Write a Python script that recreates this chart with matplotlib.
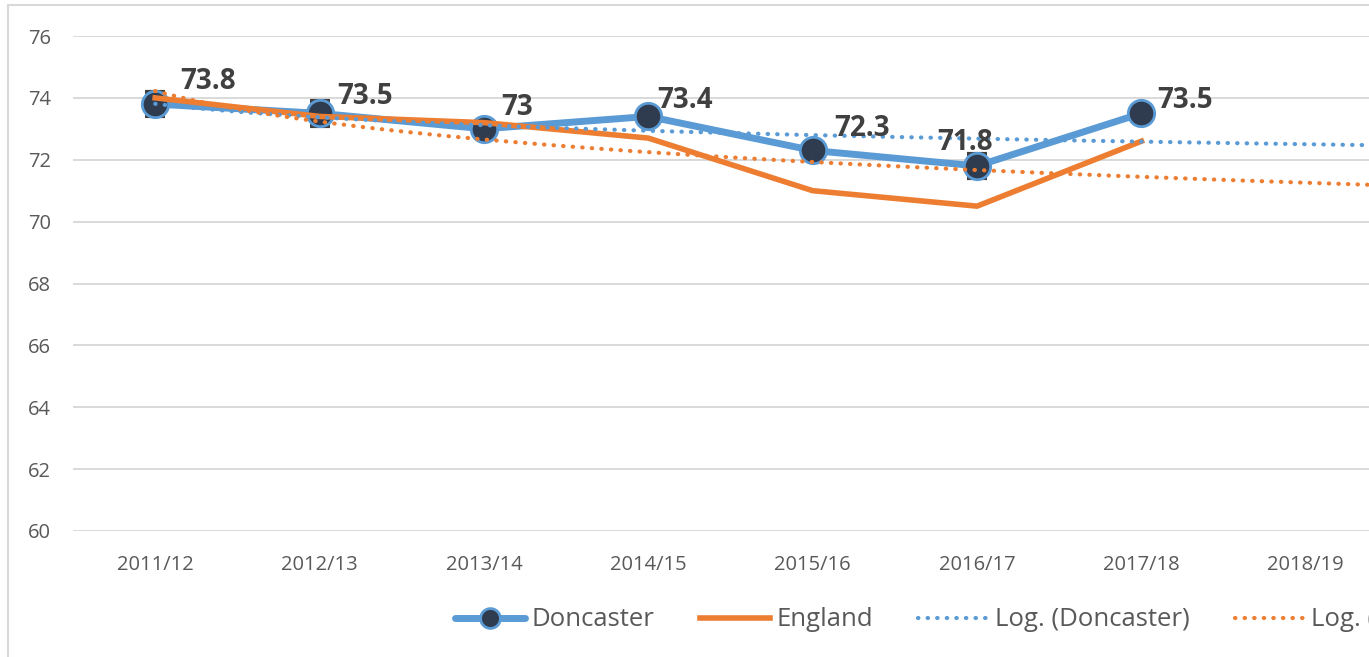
import numpy as np
import matplotlib
matplotlib.use("Agg")
from matplotlib import pyplot as plt
from matplotlib.patches import Rectangle

# -- data ---------------------------------------------------------------------
years = ["2011/12", "2012/13", "2013/14", "2014/15", "2015/16", "2016/17", "2017/18", "2018/19"]
doncaster = [73.8, 73.5, 73.0, 73.4, 72.3, 71.8, 73.5]
england = [74.0, 73.4, 73.2, 72.7, 71.0, 70.5, 72.6]
doncaster_err = [0.4, 0.4, 0.0, 0.0, 0.0, 0.4, 0.0]

# label offsets in pixels (dx, dy) - placed by hand like the original
label_offsets = [(25, 23), (18, 17), (17, 21), (9, 16), (22, 22), (-40, 23), (16, 13)]

# -- colours ------------------------------------------------------------------
blue = "#5B9BD5"
orange = "#ED7D31"
navy = "#2F3B4F"
grid_col = "#D9D9D9"
text_col = "#595959"
label_col = "#404040"

W, H = 1369, 657
fig = plt.figure(figsize=(W / 100, H / 100), dpi=100)
fig.set_facecolor("white")

plt.rcParams["font.family"] = ["Open Sans", "DejaVu Sans"]

# plot area runs off the right edge of the (cropped) picture
ax = fig.add_axes((73 / W, (H - 531) / H, (1388 - 73) / W, 495 / H))

x = np.arange(len(doncaster))

# log trendlines, fitted like Excel does: y = a + b*ln(x)
xf = np.linspace(1, 9, 200)
bd, ad = np.polyfit(np.log(x + 1), doncaster, 1)
be, ae = np.polyfit(np.log(x + 1), england, 1)

ax.errorbar(x, doncaster, yerr=doncaster_err, fmt="none", ecolor="#3F3F3F",
            elinewidth=3, capsize=7, capthick=3, zorder=2)
ax.plot(x, doncaster, color=blue, lw=5, marker="o", ms=19, mfc=navy,
        mec=blue, mew=2, zorder=3, label="Doncaster", solid_capstyle="round")
ax.plot(x, england, color=orange, lw=4, zorder=4, label="England")
ax.plot(xf - 1, ad + bd * np.log(xf), color=blue, lw=3, ls=(0, (0.1, 2.2)),
        dash_capstyle="round", zorder=5, label="Log. (Doncaster)")
ax.plot(xf - 1, ae + be * np.log(xf), color=orange, lw=3, ls=(0, (0.1, 2.2)),
        dash_capstyle="round", zorder=5, label="Log. (England)")

for xi, yi, (dx, dy) in zip(x, doncaster, label_offsets):
    ax.annotate(f"{yi:g}", (xi, yi), xytext=(dx, dy), textcoords="offset pixels",
                ha="left", va="center", fontsize=20, fontweight="bold",
                color=label_col, zorder=6)

ax.set_xlim(-0.5, len(years) - 0.5)
ax.set_ylim(60, 76)
ax.set_yticks(range(60, 77, 2))
ax.set_xticks(range(len(years)))
ax.set_xticklabels(years)
ax.tick_params(length=0, labelsize=14.5, labelcolor=text_col)
ax.tick_params(axis="y", pad=16)
ax.tick_params(axis="x", pad=17)
ax.yaxis.grid(True, color=grid_col, lw=1.4)
ax.set_axisbelow(True)
for s in ax.spines.values():
    s.set_visible(False)

leg = fig.legend(loc="center left", bbox_to_anchor=(455 / W, 1 - 620 / H),
                 ncol=4, frameon=False, fontsize=18.5, handlelength=2.72,
                 handletextpad=0.27, columnspacing=1.75, borderaxespad=0,
                 borderpad=0, markerscale=0.75)
for t in leg.get_texts():
    t.set_color(text_col)

# chart border (cropped on the right and bottom)
fig.patches.append(Rectangle((8 / W, -0.1), 2, (H - 5) / H + 0.1,
                             transform=fig.transFigure, fill=False,
                             edgecolor=grid_col, lw=1.5))

fig.savefig("out.png", dpi=100)
